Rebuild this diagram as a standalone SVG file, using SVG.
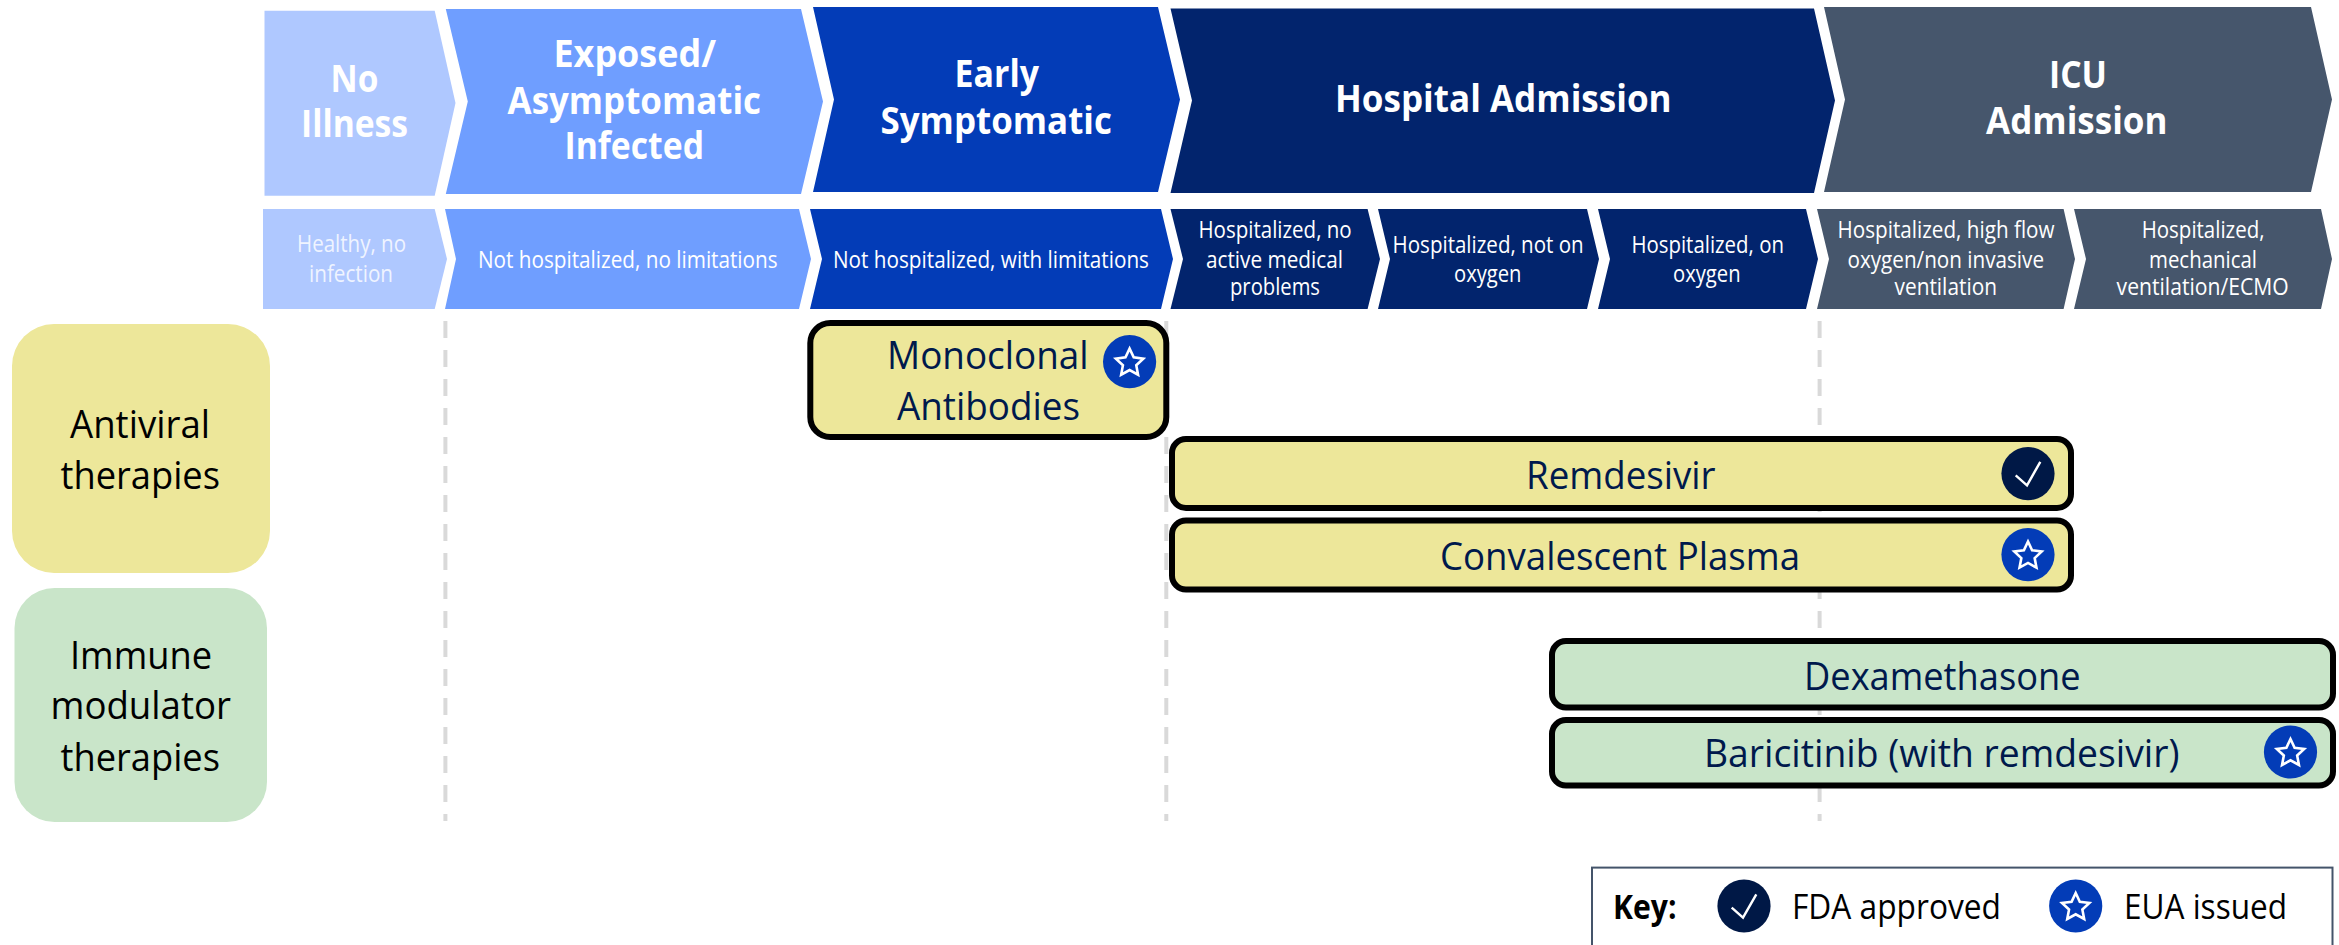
<svg xmlns="http://www.w3.org/2000/svg" width="2339" height="945" viewBox="0 0 2339 945">
<style>
text{font-family:"Open Sans","Noto Sans","Liberation Sans",sans-serif}
.h{font-size:38px;font-weight:700;fill:#fff}
.s{font-size:23px;fill:#fff}
.l{font-size:38.5px;fill:#000}
.d{font-size:38.5px;fill:#00194c}
.k{font-size:34px;fill:#000}
.kb{font-size:34px;font-weight:700;fill:#000}
.bar{stroke:#000;stroke-width:6}
.y{fill:#ede79a}
.g{fill:#c9e5c9}
.c1{fill:#afc8ff}.c2{fill:#6f9eff}.c3{fill:#033cb7}.c4{fill:#02246d}.c5{fill:#46566c}
.guide{stroke:#d9d9d9;stroke-width:4;stroke-dasharray:17 12;fill:none}
</style>
<defs>
<g id="star"><circle r="26.6" fill="#033cb7"/><polygon transform="translate(0 1.35)" points="0,-14.4 4.11,-5.66 13.7,-4.45 6.66,2.16 8.46,11.65 0,7 -8.46,11.65 -6.66,2.16 -13.7,-4.45 -4.11,-5.66" fill="none" stroke="#fff" stroke-width="2.6" stroke-linejoin="miter"/></g>
<g id="check"><circle r="26.6" fill="#001846"/><polyline points="-12.3,1.7 -1,11.7 12.3,-11.7" fill="none" stroke="#fff" stroke-width="2.4"/></g>
</defs>
<rect width="2339" height="945" fill="#fff"/>

<g id="connectors">
<path class="guide" d="M445.4 321V821"/>
<path class="guide" d="M1166.3 321V821"/>
<path class="guide" d="M1819.6 321V821"/>
</g>

<g id="stage-no-illness"><polygon class="c1" points="264.5,10.7 434.7,10.7 455.5,103 434.7,195.7 264.5,195.7"/>
<text class="h" x="330.6" y="91.7" textLength="47.8" lengthAdjust="spacingAndGlyphs">No</text>
<text class="h" x="301" y="137" textLength="107" lengthAdjust="spacingAndGlyphs">Illness</text></g>
<g id="stage-exposed"><polygon class="c2" points="445.8,9 801,9 823,101.5 801,194 445.8,194 467.8,101.5"/>
<text class="h" x="553.5" y="66.7" textLength="162.5" lengthAdjust="spacingAndGlyphs">Exposed/</text>
<text class="h" x="507.6" y="114" textLength="253.4" lengthAdjust="spacingAndGlyphs">Asymptomatic</text>
<text class="h" x="564.5" y="159" textLength="139.5" lengthAdjust="spacingAndGlyphs">Infected</text></g>
<g id="stage-early"><polygon class="c3" points="813,7 1158,7 1180,99.5 1158,192 813,192 834,99.5"/>
<text class="h" x="954.6" y="87" textLength="84.4" lengthAdjust="spacingAndGlyphs">Early</text>
<text class="h" x="880.5" y="134" textLength="231.5" lengthAdjust="spacingAndGlyphs">Symptomatic</text></g>
<g id="stage-hospital"><polygon class="c4" points="1170.5,8.5 1814,8.5 1835,100.5 1814,193 1170.5,193 1192,100.5"/>
<text class="h" x="1335" y="112" textLength="336.6" lengthAdjust="spacingAndGlyphs">Hospital Admission</text></g>
<g id="stage-icu"><polygon class="c5" points="1824,7 2311,7 2332,99.5 2311,192 1824,192 1845,99.5"/>
<text class="h" x="2049" y="87.7" textLength="58" lengthAdjust="spacingAndGlyphs">ICU</text>
<text class="h" x="1986" y="133.5" textLength="181.5" lengthAdjust="spacingAndGlyphs">Admission</text></g>

<g id="sub-healthy"><polygon class="c1" points="263,209 434.7,209 447,259 434.7,309 263,309"/>
<text class="s" x="297" y="252" textLength="109" lengthAdjust="spacingAndGlyphs" opacity=".8">Healthy, no</text>
<text class="s" x="309" y="282" textLength="84" lengthAdjust="spacingAndGlyphs" opacity=".8">infection</text></g>
<g id="sub-no-limit"><polygon class="c2" points="445,209 799,209 811,259 799,309 445,309 456,259"/>
<text class="s" x="478" y="268" textLength="299.6" lengthAdjust="spacingAndGlyphs">Not hospitalized, no limitations</text></g>
<g id="sub-with-limit"><polygon class="c3" points="810,209 1161,209 1173,259 1161,309 810,309 822,259"/>
<text class="s" x="833" y="268" textLength="316" lengthAdjust="spacingAndGlyphs">Not hospitalized, with limitations</text></g>
<g id="sub-no-active"><polygon class="c4" points="1170.5,209 1367.6,209 1380,259 1367.6,309 1170.5,309 1183,259"/>
<text class="s" x="1198.5" y="238" textLength="153.2" lengthAdjust="spacingAndGlyphs">Hospitalized, no</text>
<text class="s" x="1206" y="268" textLength="137" lengthAdjust="spacingAndGlyphs">active medical</text>
<text class="s" x="1230" y="295" textLength="90" lengthAdjust="spacingAndGlyphs">problems</text></g>
<g id="sub-not-oxygen"><polygon class="c4" points="1378,209 1587,209 1599,259 1587,309 1378,309 1390,259"/>
<text class="s" x="1392.6" y="253" textLength="191.1" lengthAdjust="spacingAndGlyphs">Hospitalized, not on</text>
<text class="s" x="1454" y="282" textLength="67.5" lengthAdjust="spacingAndGlyphs">oxygen</text></g>
<g id="sub-on-oxygen"><polygon class="c4" points="1598,209 1806,209 1818,259 1806,309 1598,309 1610,259"/>
<text class="s" x="1631.4" y="253" textLength="152.6" lengthAdjust="spacingAndGlyphs">Hospitalized, on</text>
<text class="s" x="1673" y="282" textLength="67.6" lengthAdjust="spacingAndGlyphs">oxygen</text></g>
<g id="sub-high-flow"><polygon class="c5" points="1817,209 2063.6,209 2075,259 2063.6,309 1817,309 1829,259"/>
<text class="s" x="1837.6" y="238" textLength="216.9" lengthAdjust="spacingAndGlyphs">Hospitalized, high flow</text>
<text class="s" x="1847.5" y="268" textLength="196.5" lengthAdjust="spacingAndGlyphs">oxygen/non invasive</text>
<text class="s" x="1894.5" y="295" textLength="102.5" lengthAdjust="spacingAndGlyphs">ventilation</text></g>
<g id="sub-mechanical"><polygon class="c5" points="2074,209 2321,209 2332,259 2321,309 2074,309 2086,259"/>
<text class="s" x="2141.7" y="238" textLength="122.8" lengthAdjust="spacingAndGlyphs">Hospitalized,</text>
<text class="s" x="2149" y="268" textLength="108" lengthAdjust="spacingAndGlyphs">mechanical</text>
<text class="s" x="2116.6" y="295" textLength="172.1" lengthAdjust="spacingAndGlyphs">ventilation/ECMO</text></g>

<g id="cat-antiviral"><rect class="y" x="12" y="324" width="258" height="249" rx="42" ry="42"/>
<text class="l" x="70" y="437.5" textLength="140" lengthAdjust="spacingAndGlyphs">Antiviral</text>
<text class="l" x="60.5" y="488.5" textLength="159.5" lengthAdjust="spacingAndGlyphs">therapies</text></g>
<g id="cat-immune"><rect class="g" x="14.5" y="588" width="252.5" height="234" rx="40" ry="40"/>
<text class="l" x="70" y="668.5" textLength="142" lengthAdjust="spacingAndGlyphs">Immune</text>
<text class="l" x="50.5" y="719" textLength="180.5" lengthAdjust="spacingAndGlyphs">modulator</text>
<text class="l" x="60.5" y="770.5" textLength="159.5" lengthAdjust="spacingAndGlyphs">therapies</text></g>

<g id="drug-monoclonal"><rect class="bar y" x="810.3" y="323" width="356" height="114" rx="20"/>
<text class="d" x="887" y="369.3" textLength="201.5" lengthAdjust="spacingAndGlyphs">Monoclonal</text>
<text class="d" x="897" y="420" textLength="183" lengthAdjust="spacingAndGlyphs">Antibodies</text>
<use href="#star" x="1129.6" y="361.7"/></g>
<g id="drug-remdesivir"><rect class="bar y" x="1172" y="439" width="899" height="69" rx="14"/>
<text class="d" x="1526" y="489" textLength="189.6" lengthAdjust="spacingAndGlyphs">Remdesivir</text>
<use href="#check" x="2028" y="473.6"/></g>
<g id="drug-plasma"><rect class="bar y" x="1172" y="520.4" width="899" height="69" rx="14"/>
<text class="d" x="1440" y="570" textLength="360" lengthAdjust="spacingAndGlyphs">Convalescent Plasma</text>
<use href="#star" x="2028" y="554.6"/></g>
<g id="drug-dexamethasone"><rect class="bar g" x="1552" y="641" width="781" height="66.4" rx="14"/>
<text class="d" x="1804" y="689.5" textLength="276.5" lengthAdjust="spacingAndGlyphs">Dexamethasone</text></g>
<g id="drug-baricitinib"><rect class="bar g" x="1552" y="720" width="781" height="65.4" rx="14"/>
<text class="d" x="1704" y="766.5" textLength="475.5" lengthAdjust="spacingAndGlyphs">Baricitinib (with remdesivir)</text>
<use href="#star" x="2290.5" y="752"/></g>

<g id="key"><rect x="1592" y="867.6" width="740.5" height="90" fill="#fff" stroke="#44546a" stroke-width="2"/>
<text class="kb" x="1613" y="918.5" textLength="63.6" lengthAdjust="spacingAndGlyphs">Key:</text>
<use href="#check" x="1744" y="906"/>
<text class="k" x="1792" y="918.5" textLength="209" lengthAdjust="spacingAndGlyphs">FDA approved</text>
<use href="#star" x="2075.7" y="906"/>
<text class="k" x="2124" y="918.5" textLength="163" lengthAdjust="spacingAndGlyphs">EUA issued</text></g>
</svg>
